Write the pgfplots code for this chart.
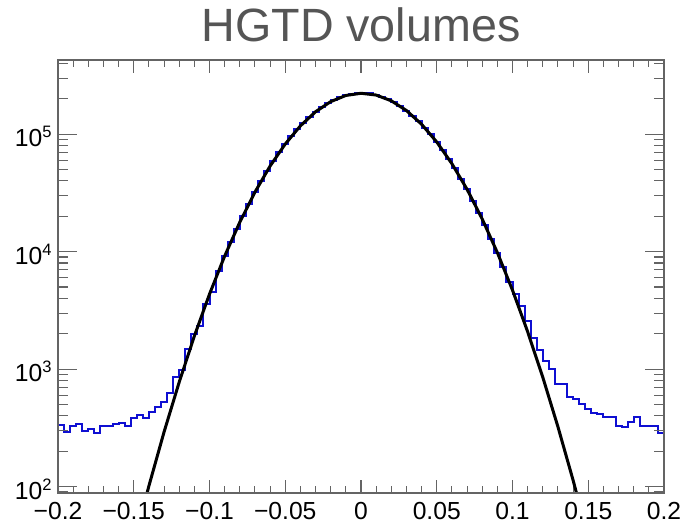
\documentclass[border=0pt]{standalone}
\usepackage{fontspec}
\setmainfont{Liberation Sans}
\usepackage{pgfplots}
\pgfplotsset{compat=1.18}
\usepackage{pgfplotstable}
\definecolor{axgray}{RGB}{100,100,100}
\definecolor{titlegray}{RGB}{85,85,85}
\definecolor{histblue}{RGB}{15,15,210}
\newcommand\pw[1]{10\raisebox{6.75pt}{\fontsize{12.4pt}{12.4pt}\selectfont #1}}

\pgfplotstableread{
x y
-0.200 334
-0.196 293
-0.192 330
-0.188 341
-0.184 297
-0.180 309
-0.176 284
-0.172 330
-0.168 330
-0.164 343
-0.160 350
-0.156 328
-0.152 386
-0.148 406
-0.144 386
-0.140 434
-0.136 478
-0.132 528
-0.128 629
-0.124 849
-0.120 981
-0.116 1480
-0.112 1983
-0.108 2333
-0.104 3566
-0.100 4538
-0.096 6858
-0.092 9155
-0.088 12063
-0.084 15704
-0.080 20195
-0.076 25630
-0.072 32140
-0.068 39800
-0.064 48680
-0.060 58800
-0.056 70140
-0.052 82600
-0.048 96100
-0.044 110400
-0.040 125300
-0.036 140400
-0.032 155400
-0.028 169800
-0.024 183400
-0.020 195400
-0.016 205800
-0.012 213900
-0.008 220500
-0.004 225500
0.000 226000
0.004 224500
0.008 217000
0.012 208000
0.016 198200
0.020 186500
0.024 173300
0.028 159100
0.032 144200
0.036 129100
0.040 114100
0.044 99600
0.048 85900
0.052 73140
0.056 61510
0.060 51090
0.064 41910
0.068 33940
0.072 27150
0.076 21460
0.080 16740
0.084 12900
0.088 9820
0.092 7380
0.096 5478
0.100 4395
0.104 3451
0.108 2558
0.112 1823
0.116 1450
0.120 1177
0.124 994
0.128 750
0.132 746
0.136 574
0.140 552
0.144 501
0.148 460
0.152 426
0.156 417
0.160 391
0.164 391
0.168 326
0.172 319
0.176 355
0.180 388
0.184 326
0.188 328
0.192 328
0.196 284
0.200 284
}\histdata

\pgfplotstableread{
x y
-0.15 32.5
-0.14 101
-0.13 291
-0.12 774
-0.11 1910
-0.10 4346
-0.09 9162
-0.08 17820
-0.07 32140
-0.06 53580
-0.05 82600
-0.04 117800
-0.03 155400
-0.02 189600
-0.01 213900
0.00 223300
0.01 215700
0.02 192600
0.03 159200
0.04 121600
0.05 85900
0.06 56110
0.07 33960
0.08 18970
0.09 9817
0.10 4699
0.11 2080
0.12 851
0.13 322
0.14 113
0.15 36.6
}\fitdata

\begin{document}
\begin{tikzpicture}
\fill[white] (-43.5pt,-20.25pt) rectangle (467.25pt,369.75pt);
\begin{axis}[
  at={(0,0)}, anchor=south west,
  scale only axis, width=454.5pt, height=324.75pt,
  xmin=-0.2, xmax=0.2, ymin=88, ymax=4.29e5,
  ymode=log,
  xtick={-0.2,-0.15,-0.1,-0.05,0,0.05,0.1,0.15,0.2},
  xticklabels={−0.2,−0.15,−0.1,−0.05,0,0.05,0.1,0.15,0.2},
  minor x tick num=4,
  ytick=\empty,
  tick align=inside,
  major tick length=9.75pt, minor tick length=5.25pt,
  tick style={axgray, line width=0.8pt},
  axis line style={axgray, line width=1.1pt},
  xticklabel style={font=\fontsize{18.5pt}{18.5pt}\selectfont, inner sep=0pt, anchor=north, yshift=-6.6pt},
  title={HGTD volumes},
  title style={at={(0.5,1)}, anchor=base, yshift=7.9pt, inner sep=0pt, text=titlegray, font=\fontsize{35pt}{35pt}\selectfont},
]
\addplot[const plot, histblue, line width=1.5pt] table[x=x,y=y] {\histdata};
\addplot[black, line width=2.25pt] table[x=x,y=y] {\fitdata};
\end{axis}
\begin{axis}[
  at={(0,0)}, anchor=south west,
  scale only axis, width=454.5pt, height=324.75pt,
  xmin=-0.2, xmax=0.2, ymin=88, ymax=4.29e5,
  ymode=log,
  xtick=\empty,
  ytick={100,1000,10000,100000},
  yticklabels={\pw{2},\pw{3},\pw{4},\pw{5}},
  minor ytick={90,200,300,400,500,600,700,800,900,2000,3000,4000,5000,6000,7000,8000,9000,20000,30000,40000,50000,60000,70000,80000,90000,200000,300000,400000},
  tick align=inside,
  major tick length=14.25pt, minor tick length=7.5pt,
  tick style={axgray, line width=0.8pt},
  axis line style={axgray, line width=1.1pt},
  yticklabel style={font=\fontsize{18.5pt}{18.5pt}\selectfont, inner sep=0pt, anchor=east, xshift=-4.7pt, yshift=-2pt},
]
\end{axis}
\pgfresetboundingbox
\path[use as bounding box] (-43.5pt,-20.25pt) rectangle (467.25pt,369.75pt);
\end{tikzpicture}
\end{document}
